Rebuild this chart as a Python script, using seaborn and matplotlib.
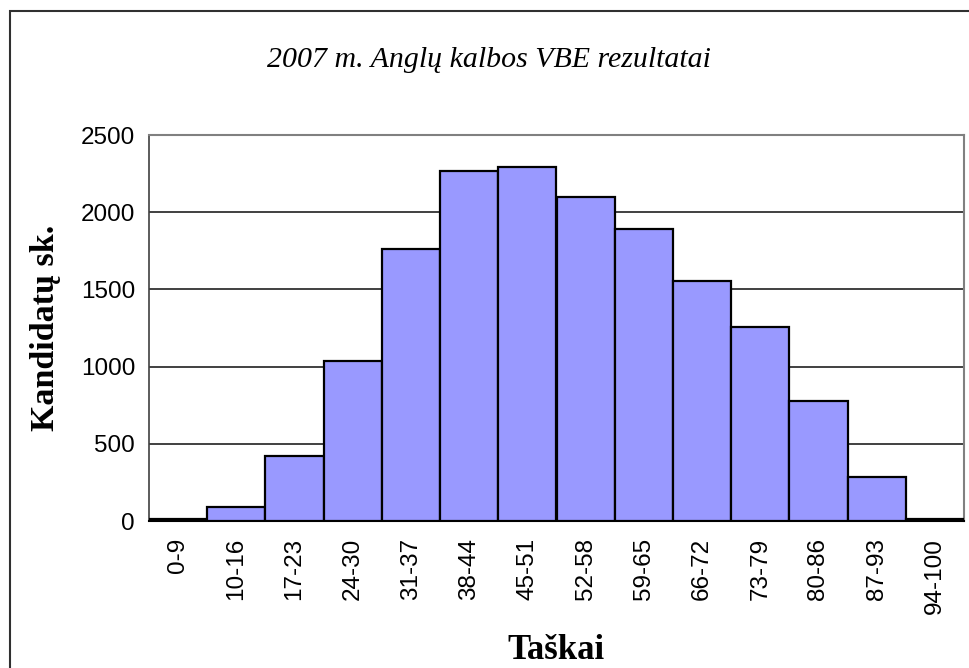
import numpy as np
import pandas as pd
import matplotlib
matplotlib.use("Agg")
import matplotlib.pyplot as plt
import seaborn as sns
from matplotlib.patches import Rectangle

# data
intervals = ["0-9", "10-16", "17-23", "24-30", "31-37", "38-44", "45-51",
             "52-58", "59-65", "66-72", "73-79", "80-86", "87-93", "94-100"]
candidates = [10, 88, 423, 1034, 1762, 2267, 2293,
              2098, 1891, 1552, 1254, 775, 283, 10]
y_ticks = [0, 500, 1000, 1500, 2000, 2500]

df = pd.DataFrame({"Taskai": intervals, "Kandidatai": candidates})

sns.set_style("white")
plt.rcParams["font.family"] = ["Liberation Sans", "DejaVu Sans"]
plt.rcParams["text.color"] = "black"
plt.rcParams["axes.labelcolor"] = "black"
plt.rcParams["xtick.labelcolor"] = "black"
plt.rcParams["ytick.labelcolor"] = "black"

fig = plt.figure(figsize=(9.69, 6.68), dpi=100)
ax = fig.add_axes([149 / 969, 1 - 521 / 668, (964 - 149) / 969, (521 - 135) / 668])

sns.barplot(data=df, x="Taskai", y="Kandidatai", color="#9999FF",
            saturation=1, width=1.0, edgecolor="black", linewidth=1.6, ax=ax, zorder=3)

ax.set_ylim(0, 2500)
ax.set_xlim(-0.5, len(intervals) - 0.5)
ax.set_yticks(y_ticks)
ax.set_yticklabels([str(v) for v in y_ticks], fontsize=17.5)

# category labels at bar centres, tick marks at bin edges
ax.set_xticks(np.arange(len(intervals)))
ax.set_xticklabels(intervals, rotation=90, fontsize=17.5)
ax.set_xticks(np.arange(len(intervals) + 1) - 0.5, minor=True)
ax.tick_params(axis="x", which="major", length=0, pad=12)
ax.tick_params(axis="x", which="minor", length=7, width=1.2, color="#808080", direction="out")
ax.tick_params(axis="y", length=6, width=1.2, color="#404040", direction="out", pad=4)

ax.yaxis.grid(True, color="#202020", linewidth=1.2, zorder=0)
ax.set_axisbelow(True)

for side in ["top", "right"]:
    ax.spines[side].set_color("#808080")
    ax.spines[side].set_linewidth(1.5)
ax.spines["left"].set_color("#404040")
ax.spines["left"].set_linewidth(1.2)
ax.spines["bottom"].set_color("black")
ax.spines["bottom"].set_linewidth(1.5)

ax.set_xlabel("Taškai", fontsize=25, fontweight="bold", family="Liberation Serif", labelpad=15)
ax.set_ylabel("Kandidatų sk.", fontsize=24.5, fontweight="bold", family="Liberation Serif", labelpad=14)

fig.text(489 / 969, 1 - 60 / 668, "2007 m. Anglų kalbos VBE rezultatai", ha="center", va="center",
         fontsize=21.5, style="italic", family="Liberation Serif")

# outer chart frame (only left and top edges are visible in the picture)
fig.patches.append(Rectangle((9.5 / 969, -0.1), 1.2, 1 - 11 / 668 + 0.1, transform=fig.transFigure,
                             fill=False, edgecolor="#303030", linewidth=1.5))

plt.savefig("out.png", dpi=100)
